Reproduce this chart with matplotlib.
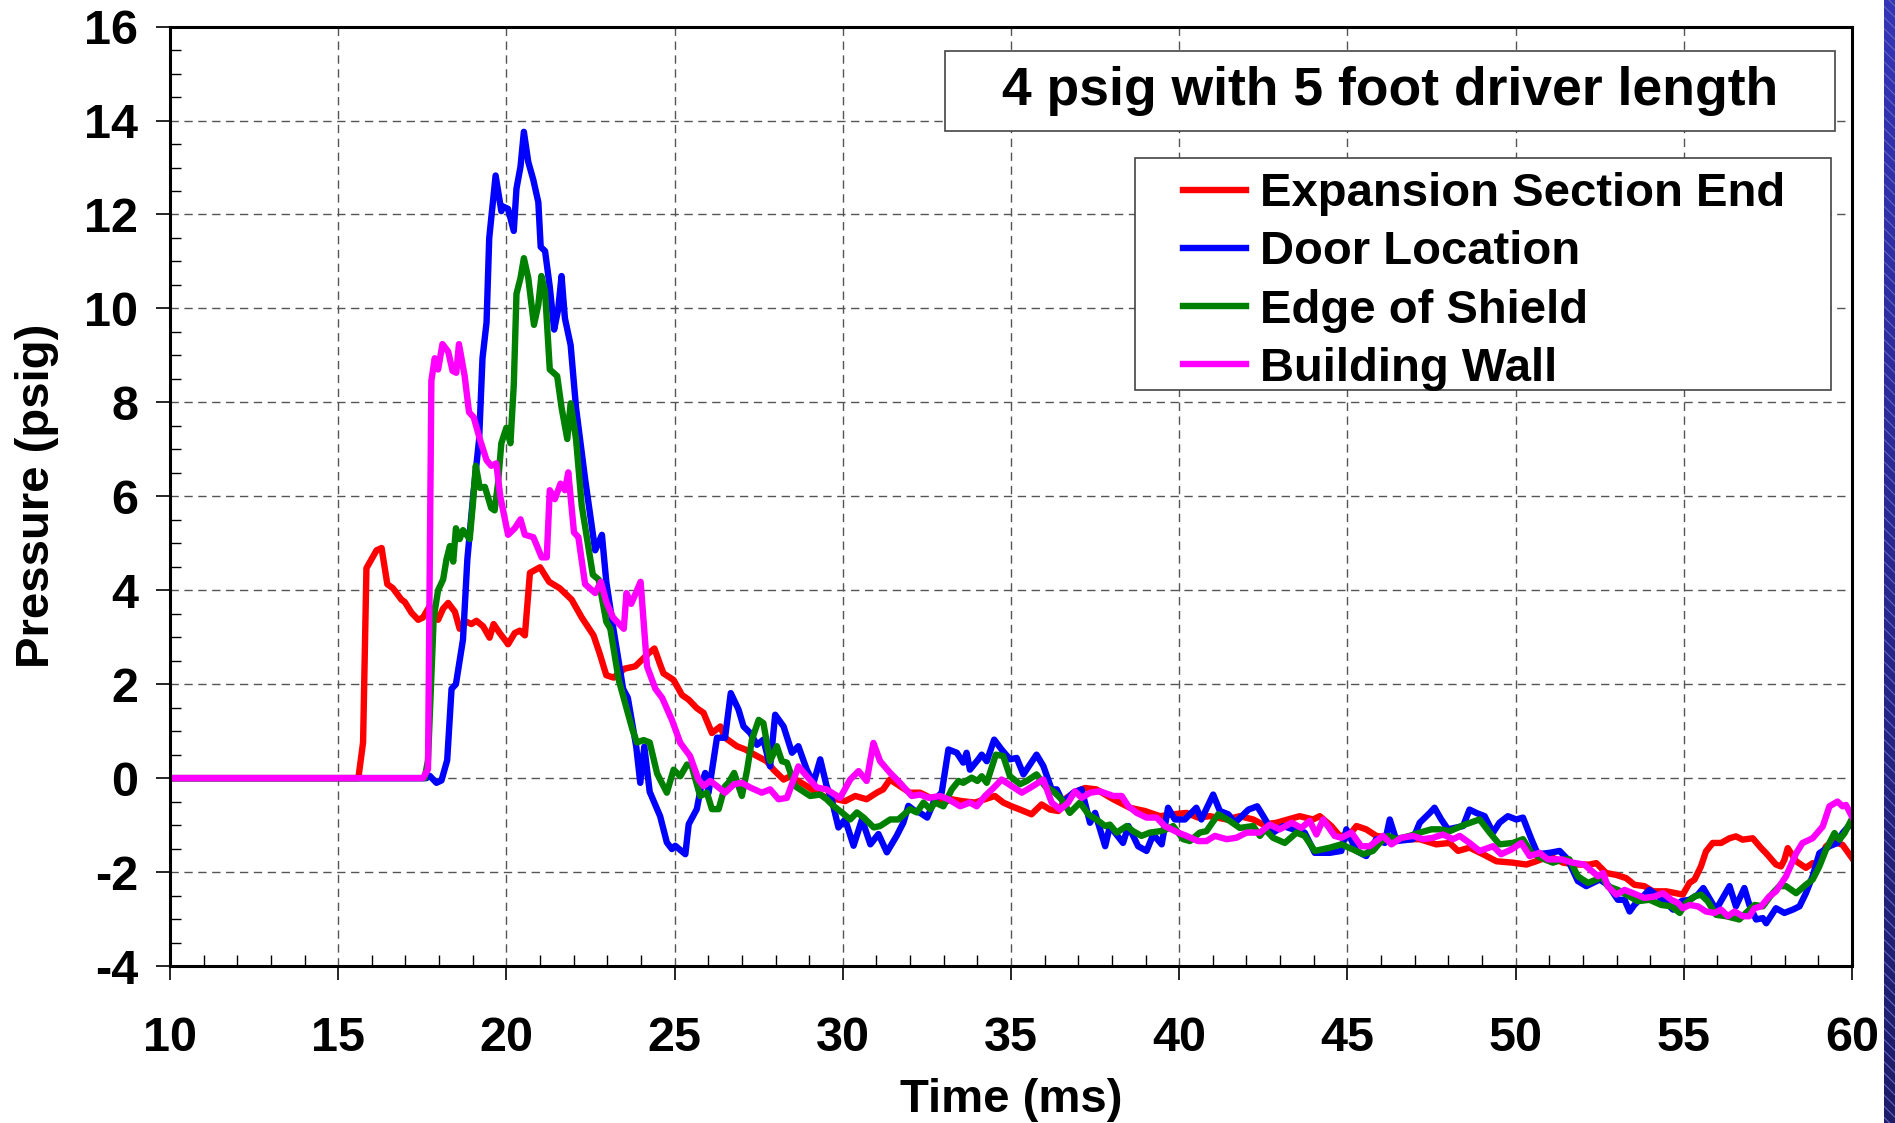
import numpy as np
import matplotlib
matplotlib.use('Agg')
import matplotlib.pyplot as plt
from matplotlib.patches import Rectangle
from matplotlib.ticker import MultipleLocator

plt.rcParams.update({
    'font.family': 'Liberation Sans', 'font.weight': 'bold',
    'axes.unicode_minus': False, 'hatch.linewidth': 0.8,
})

# (time ms, pressure psig)
red_pts = [
    (10, 0), (15.6, 0), (15.74, 0.76), (15.84, 4.47), (15.99, 4.66), (16.14, 4.85), (16.29, 4.9),
    (16.46, 4.13), (16.63, 4.04), (16.88, 3.8), (16.98, 3.75), (17.18, 3.52), (17.38, 3.37),
    (17.52, 3.42), (17.72, 3.66), (17.97, 3.37), (18.12, 3.61), (18.27, 3.73), (18.47, 3.54),
    (18.61, 3.18), (18.81, 3.33), (18.96, 3.28), (19.11, 3.35), (19.31, 3.23), (19.5, 2.99),
    (19.62, 3.28), (19.8, 3.09), (19.95, 2.95), (20.05, 2.85), (20.25, 3.09), (20.4, 3.14),
    (20.55, 3.04), (20.7, 4.37), (21.0, 4.49), (21.27, 4.18), (21.59, 4.04), (21.94, 3.8),
    (22.24, 3.42), (22.59, 3.04), (22.77, 2.66), (22.97, 2.19), (23.19, 2.14), (23.51, 2.33),
    (23.83, 2.38), (24.23, 2.66), (24.4, 2.76), (24.58, 2.4), (24.67, 2.23), (24.97, 2.09),
    (25.22, 1.77), (25.42, 1.67), (25.66, 1.49), (25.86, 1.39), (26.11, 0.96), (26.36, 1.1),
    (26.5, 0.86), (26.85, 0.68), (27.1, 0.61), (27.45, 0.47), (27.74, 0.36), (27.94, 0.18),
    (28.24, -0.03), (28.44, 0.04), (28.93, -0.17), (29.23, -0.31), (29.52, -0.42), (29.82, -0.45),
    (30.07, -0.49), (30.37, -0.38), (30.71, -0.45), (31.01, -0.31), (31.2, -0.24), (31.4, -0.03),
    (31.7, -0.17), (31.99, -0.31), (32.3, -0.31), (32.69, -0.45), (32.99, -0.52), (33.24, -0.45),
    (33.54, -0.49), (33.93, -0.52), (34.23, -0.45), (34.52, -0.38), (34.77, -0.52), (35.02, -0.6),
    (35.27, -0.67), (35.61, -0.77), (35.91, -0.56), (36.16, -0.67), (36.41, -0.7), (36.65, -0.42),
    (36.95, -0.28), (37.2, -0.21), (37.54, -0.24), (38.04, -0.45), (38.53, -0.63), (38.98, -0.7),
    (39.43, -0.81), (39.82, -0.77), (40.22, -0.74), (40.56, -0.84), (40.91, -0.81), (41.41, -0.88),
    (41.8, -0.81), (42.2, -0.88), (42.5, -0.99), (42.89, -0.95), (43.58, -0.81), (43.98, -0.88),
    (44.18, -0.81), (44.52, -1.02), (44.77, -1.23), (45.07, -1.2), (45.27, -1.02), (45.56, -1.09),
    (45.86, -1.23), (46.26, -1.27), (46.65, -1.3), (47.15, -1.3), (47.64, -1.41), (48.04, -1.38),
    (48.29, -1.55), (48.63, -1.48), (49.03, -1.62), (49.43, -1.77), (49.92, -1.8), (50.32, -1.84),
    (50.61, -1.77), (51.01, -1.66), (51.41, -1.8), (51.8, -1.84), (52.2, -1.84), (52.4, -1.81),
    (52.69, -2.02), (52.99, -2.06), (53.29, -2.13), (53.53, -2.27), (53.83, -2.3), (54.08, -2.41),
    (54.48, -2.41), (54.77, -2.45), (54.97, -2.48), (55.17, -2.23), (55.32, -2.16), (55.51, -1.88),
    (55.66, -1.56), (55.86, -1.38), (56.11, -1.38), (56.36, -1.28), (56.55, -1.24), (56.75, -1.31),
    (57.05, -1.28), (57.3, -1.49), (57.45, -1.6), (57.74, -1.84), (57.89, -1.88), (57.99, -1.74),
    (58.09, -1.49), (58.34, -1.77), (58.63, -1.91), (58.83, -1.81), (58.98, -1.84), (59.23, -1.45),
    (59.43, -1.35), (59.72, -1.42), (60.0, -1.7),
]

blue_pts = [
    (10, 0), (17.62, 0), (17.72, 0.05), (17.92, -0.1), (18.07, -0.05), (18.24, 0.38), (18.37, 1.9),
    (18.5, 2.0), (18.71, 2.95), (18.84, 4.66), (19.01, 5.99), (19.19, 7.22), (19.29, 8.94),
    (19.41, 9.7), (19.49, 11.5), (19.68, 12.83), (19.85, 12.07), (19.9, 12.17), (20.05, 12.12),
    (20.22, 11.65), (20.3, 12.55), (20.42, 13.02), (20.52, 13.76), (20.65, 13.12), (20.8, 12.74),
    (20.95, 12.26), (21.02, 11.31), (21.15, 11.22), (21.29, 10.46), (21.42, 9.55), (21.54, 9.98),
    (21.64, 10.69), (21.74, 9.79), (21.91, 9.22), (22.07, 7.89), (22.34, 6.37), (22.64, 4.85),
    (22.84, 5.18), (22.97, 4.18), (23.19, 3.14), (23.47, 1.9), (23.61, 1.71), (23.86, 0.67),
    (23.98, -0.1), (24.1, 0.67), (24.26, -0.29), (24.57, -0.81), (24.77, -1.37), (24.92, -1.51),
    (25.02, -1.44), (25.32, -1.62), (25.42, -0.98), (25.66, -0.66), (25.81, -0.1), (25.91, 0.11),
    (26.01, -0.31), (26.26, 0.86), (26.5, 0.86), (26.67, 1.81), (26.9, 1.46), (27.05, 1.1),
    (27.25, 0.96), (27.45, 0.71), (27.64, 0.82), (27.84, 0.25), (27.99, 1.35), (28.24, 1.1),
    (28.49, 0.54), (28.68, 0.68), (28.93, 0.18), (29.13, -0.1), (29.33, 0.4), (29.52, -0.17),
    (29.67, -0.45), (29.87, -1.05), (30.07, -0.88), (30.32, -1.44), (30.57, -0.88), (30.82, -1.41),
    (31.06, -1.19), (31.31, -1.58), (31.6, -1.23), (31.8, -0.95), (31.95, -0.59), (32.15, -0.7),
    (32.3, -0.74), (32.51, -0.84), (32.74, -0.45), (32.94, -0.31), (33.14, 0.61), (33.39, 0.54),
    (33.58, 0.33), (33.68, 0.54), (33.78, 0.18), (34.03, 0.4), (34.13, 0.5), (34.28, 0.36),
    (34.5, 0.82), (34.72, 0.61), (34.97, 0.4), (35.17, 0.43), (35.37, 0.08), (35.76, 0.5),
    (35.96, 0.26), (36.21, -0.24), (36.36, -0.24), (36.55, -0.52), (36.85, -0.31), (37.1, -0.24),
    (37.35, -0.95), (37.5, -0.74), (37.8, -1.45), (37.94, -1.02), (38.33, -1.38), (38.49, -1.02),
    (38.78, -1.45), (39.03, -1.55), (39.23, -1.2), (39.48, -1.41), (39.67, -0.63), (39.87, -0.88),
    (40.17, -0.88), (40.51, -0.63), (40.66, -0.88), (41.01, -0.35), (41.21, -0.7), (41.46, -0.77),
    (41.66, -0.95), (42.06, -0.67), (42.32, -0.6), (42.5, -0.81), (42.79, -1.16), (43.09, -1.02),
    (43.39, -1.09), (43.73, -1.16), (44.03, -1.59), (44.48, -1.59), (44.82, -1.55), (44.97, -1.09),
    (45.27, -1.55), (45.56, -1.66), (45.86, -1.3), (46.11, -1.38), (46.26, -0.88), (46.46, -1.34),
    (46.95, -1.3), (47.15, -0.95), (47.45, -0.74), (47.59, -0.63), (47.79, -0.88), (47.99, -1.09),
    (48.44, -1.02), (48.63, -0.67), (48.83, -0.74), (49.08, -0.81), (49.33, -1.16), (49.52, -0.95),
    (49.77, -0.81), (50.02, -0.88), (50.22, -0.84), (50.47, -1.3), (50.66, -1.62), (51.01, -1.59),
    (51.31, -1.55), (51.55, -1.73), (51.85, -2.19), (52.1, -2.3), (52.5, -2.16), (52.74, -2.27),
    (53.04, -2.59), (53.24, -2.59), (53.39, -2.84), (53.53, -2.7), (53.78, -2.52), (53.98, -2.38),
    (54.43, -2.62), (54.68, -2.8), (54.93, -2.62), (55.17, -2.59), (55.42, -2.48), (55.58, -2.34),
    (55.96, -2.8), (56.36, -2.3), (56.55, -2.73), (56.8, -2.34), (56.95, -2.7), (57.15, -3.01),
    (57.35, -2.98), (57.45, -3.09), (57.74, -2.77), (57.99, -2.87), (58.24, -2.8), (58.44, -2.73),
    (58.63, -2.45), (58.83, -2.09), (59.03, -1.6), (59.33, -1.45), (59.57, -1.38), (59.72, -1.17),
    (59.98, -0.96),
]

green_pts = [
    (10, 0), (17.57, 0), (17.67, 0.38), (17.84, 3.42), (17.97, 4.0), (18.12, 4.23), (18.22, 4.66),
    (18.32, 4.94), (18.42, 4.61), (18.5, 5.32), (18.61, 5.09), (18.71, 5.28), (18.91, 5.09),
    (19.01, 5.89), (19.09, 6.65), (19.21, 6.18), (19.36, 6.2), (19.55, 5.75), (19.65, 5.7),
    (19.75, 6.27), (19.85, 7.13), (20.0, 7.46), (20.12, 7.13), (20.22, 8.37), (20.3, 10.31),
    (20.42, 10.65), (20.52, 11.07), (20.65, 10.65), (20.82, 9.65), (20.95, 10.08), (21.04, 10.69),
    (21.15, 10.36), (21.29, 8.7), (21.51, 8.56), (21.64, 7.89), (21.81, 7.22), (21.91, 7.98),
    (22.07, 7.22), (22.24, 5.8), (22.57, 4.33), (22.74, 4.23), (22.97, 3.33), (23.09, 3.18),
    (23.34, 2.09), (23.74, 1.05), (23.88, 0.76), (24.08, 0.81), (24.26, 0.76), (24.48, 0.1),
    (24.57, -0.03), (24.77, -0.31), (24.97, 0.18), (25.17, 0.04), (25.37, 0.29), (25.51, 0.25),
    (25.76, -0.38), (25.96, -0.31), (26.11, -0.66), (26.31, -0.66), (26.5, -0.17), (26.6, -0.1),
    (26.77, 0.11), (27.0, -0.38), (27.15, 0.15), (27.3, 0.82), (27.5, 1.24), (27.64, 1.17),
    (27.84, 0.36), (28.04, 0.68), (28.19, 0.36), (28.34, 0.33), (28.58, -0.17), (28.73, -0.24),
    (29.03, -0.38), (29.33, -0.35), (29.52, -0.45), (29.72, -0.59), (29.97, -0.73), (30.22, -0.88),
    (30.42, -0.73), (30.62, -0.84), (30.92, -1.05), (31.11, -1.02), (31.41, -0.88), (31.65, -0.88),
    (32.0, -0.66), (32.2, -0.73), (32.4, -0.52), (32.6, -0.66), (32.74, -0.52), (32.99, -0.6),
    (33.24, -0.24), (33.44, -0.06), (33.58, -0.1), (33.83, 0.01), (34.0, -0.06), (34.13, 0.04),
    (34.28, -0.1), (34.55, 0.5), (34.77, 0.47), (34.97, 0.04), (35.27, -0.13), (35.47, -0.06),
    (35.76, 0.08), (36.01, -0.17), (36.26, -0.28), (36.5, -0.45), (36.75, -0.74), (37.05, -0.52),
    (37.3, -0.77), (37.54, -0.88), (37.8, -1.02), (37.94, -0.99), (38.14, -1.16), (38.44, -1.02),
    (38.63, -1.13), (38.88, -1.23), (39.13, -1.16), (39.43, -1.13), (39.62, -1.09), (39.82, -1.02),
    (40.12, -1.3), (40.32, -1.34), (40.61, -1.16), (40.81, -1.13), (41.16, -0.77), (41.5, -0.91),
    (41.8, -1.06), (42.2, -1.02), (42.4, -1.23), (42.55, -1.09), (42.79, -1.27), (43.14, -1.38),
    (43.49, -1.16), (43.73, -1.23), (44.03, -1.55), (44.48, -1.48), (44.82, -1.41), (45.17, -1.52),
    (45.47, -1.62), (45.76, -1.55), (45.96, -1.38), (46.21, -1.23), (46.46, -1.3), (46.85, -1.23),
    (47.15, -1.16), (47.5, -1.09), (47.74, -1.09), (48.04, -1.13), (48.49, -0.99), (48.93, -0.88),
    (49.23, -1.16), (49.52, -1.41), (49.92, -1.38), (50.22, -1.3), (50.47, -1.59), (50.76, -1.7),
    (51.11, -1.8), (51.41, -1.73), (51.6, -1.73), (51.85, -2.09), (52.15, -2.23), (52.4, -2.16),
    (52.55, -2.09), (52.74, -2.3), (53.04, -2.38), (53.39, -2.52), (53.63, -2.62), (53.98, -2.59),
    (54.33, -2.7), (54.63, -2.73), (54.88, -2.87), (55.07, -2.66), (55.32, -2.52), (55.51, -2.48),
    (55.71, -2.62), (55.96, -2.91), (56.26, -2.94), (56.65, -3.01), (56.85, -2.87), (57.1, -2.7),
    (57.35, -2.73), (57.64, -2.45), (57.84, -2.3), (58.04, -2.3), (58.34, -2.45), (58.63, -2.27),
    (58.83, -2.16), (59.03, -1.88), (59.23, -1.52), (59.48, -1.17), (59.63, -1.31), (59.78, -1.17),
    (59.98, -0.89),
]

magenta_pts = [
    (10, 0), (17.52, 0), (17.67, 0.19), (17.77, 8.46), (17.87, 8.94), (17.97, 8.7), (18.1, 9.24),
    (18.27, 9.08), (18.4, 8.67), (18.51, 8.63), (18.59, 9.24), (18.76, 8.56), (18.89, 7.79),
    (19.03, 7.68), (19.21, 7.22), (19.41, 6.77), (19.55, 6.65), (19.7, 6.7), (19.82, 5.99),
    (20.05, 5.18), (20.25, 5.32), (20.42, 5.51), (20.55, 5.18), (20.8, 5.13), (21.05, 4.7),
    (21.2, 4.7), (21.29, 6.13), (21.44, 5.94), (21.61, 6.27), (21.74, 6.13), (21.84, 6.51),
    (22.01, 5.23), (22.14, 5.13), (22.34, 4.13), (22.64, 3.94), (22.81, 4.18), (22.97, 3.75),
    (23.17, 3.42), (23.49, 3.18), (23.57, 3.94), (23.71, 3.71), (23.99, 4.18), (24.18, 2.38),
    (24.43, 1.9), (24.63, 1.71), (24.92, 1.24), (25.17, 0.75), (25.46, 0.47), (25.71, -0.03),
    (25.86, -0.17), (26.06, -0.06), (26.26, -0.17), (26.5, -0.31), (26.77, -0.13), (27.0, -0.1),
    (27.25, -0.2), (27.59, -0.31), (27.84, -0.24), (28.09, -0.45), (28.34, -0.42), (28.68, 0.25),
    (28.93, 0.04), (29.23, -0.2), (29.52, -0.24), (29.92, -0.42), (30.22, -0.03), (30.47, 0.15),
    (30.71, -0.06), (30.91, 0.75), (31.11, 0.36), (31.41, 0.11), (31.7, -0.1), (32.05, -0.38),
    (32.3, -0.35), (32.55, -0.42), (32.89, -0.38), (33.14, -0.45), (33.49, -0.6), (33.78, -0.52),
    (33.98, -0.6), (34.23, -0.38), (34.48, -0.21), (34.72, -0.03), (35.02, -0.17), (35.32, -0.31),
    (35.56, -0.21), (35.96, -0.03), (36.21, -0.52), (36.46, -0.67), (36.7, -0.52), (36.9, -0.28),
    (37.1, -0.42), (37.35, -0.31), (37.64, -0.28), (38.04, -0.38), (38.29, -0.38), (38.49, -0.6),
    (38.74, -0.74), (39.03, -0.84), (39.33, -0.84), (39.57, -1.02), (39.97, -1.16), (40.22, -1.23),
    (40.56, -1.34), (40.81, -1.34), (41.06, -1.23), (41.41, -1.3), (41.7, -1.27), (42.0, -1.16),
    (42.4, -1.16), (42.69, -0.99), (42.99, -1.09), (43.34, -0.95), (43.63, -1.06), (43.88, -0.91),
    (44.08, -1.2), (44.28, -0.88), (44.62, -1.23), (44.82, -1.27), (45.12, -1.16), (45.41, -1.45),
    (45.66, -1.45), (46.06, -1.23), (46.31, -1.41), (46.6, -1.27), (46.95, -1.23), (47.25, -1.3),
    (47.54, -1.27), (47.84, -1.2), (48.14, -1.3), (48.34, -1.23), (48.63, -1.38), (48.93, -1.55),
    (49.33, -1.45), (49.57, -1.62), (49.87, -1.52), (50.17, -1.38), (50.42, -1.66), (50.71, -1.59),
    (50.96, -1.73), (51.36, -1.73), (51.7, -1.8), (52.04, -1.84), (52.45, -2.09), (52.6, -2.02),
    (52.74, -2.3), (52.99, -2.48), (53.24, -2.38), (53.49, -2.45), (53.83, -2.55), (54.13, -2.52),
    (54.38, -2.45), (54.63, -2.59), (54.83, -2.66), (54.97, -2.77), (55.17, -2.7), (55.42, -2.73),
    (55.66, -2.84), (55.91, -2.87), (56.11, -2.8), (56.31, -2.94), (56.51, -2.84), (56.75, -2.94),
    (56.95, -2.94), (57.1, -2.77), (57.3, -2.73), (57.54, -2.52), (57.74, -2.41), (58.04, -2.09),
    (58.34, -1.6), (58.53, -1.38), (58.83, -1.28), (59.13, -1.03), (59.33, -0.6), (59.57, -0.5),
    (59.72, -0.6), (59.82, -0.57), (60.0, -0.82),
]

series = [
    ('Expansion Section End', red_pts, '#FF0000'),
    ('Door Location', blue_pts, '#0000FF'),
    ('Edge of Shield', green_pts, '#008000'),
    ('Building Wall', magenta_pts, '#FF00FF'),
]
title_text = '4 psig with 5 foot driver length'
x_ticks = list(range(10, 61, 5))
y_ticks = list(range(-4, 17, 2))

fig = plt.figure(figsize=(18.95, 11.23), dpi=100)
ax = fig.add_axes([0.0897, 0.1398, 0.8876, 0.8365])

handles = []
for name, pts, col in series:
    t, p = zip(*pts)
    h, = ax.plot(t, p, color=col, lw=4.6, label=name)
    handles.append(h)

ax.set_xlim(10, 60); ax.set_ylim(-4, 16)
ax.set_xticks(x_ticks); ax.set_yticks(y_ticks)
ax.xaxis.set_minor_locator(MultipleLocator(1))
ax.yaxis.set_minor_locator(MultipleLocator(0.5))
ax.tick_params(which='major', direction='out', length=10, width=1.2, labelsize=35)
ax.tick_params(which='minor', direction='in', length=8, width=1.0)
ax.tick_params(axis='x', which='major', pad=26)
ax.tick_params(axis='y', which='major', pad=13)
for s in ax.spines.values():
    s.set_linewidth(2.2)
ax.grid(True, which='major', color='#555555', lw=1.0, ls=(0, (6, 4)))

ax.set_xlabel('Time (ms)', fontsize=34, fontweight='bold')
ax.set_ylabel('Pressure (psig)', fontsize=34, fontweight='bold')
ax.xaxis.set_label_coords(0.5, -0.119)
ax.yaxis.set_label_coords(-0.066, 0.5)

# title box
ax.add_patch(Rectangle((0.461, 0.889), 0.529, 0.085, transform=ax.transAxes,
                       facecolor='white', edgecolor='#444444', lw=1.2, zorder=5))
ax.text(0.7255, 0.9315, title_text, transform=ax.transAxes, ha='center', va='center',
        fontsize=38.5, fontweight='bold', zorder=6)

# legend box
ax.add_patch(Rectangle((0.574, 0.613), 0.4135, 0.247, transform=ax.transAxes,
                       facecolor='white', edgecolor='#444444', lw=1.2, zorder=5))
leg = ax.legend(handles=handles, loc='upper left', bbox_to_anchor=(0.602, 0.845),
                frameon=False, fontsize=34, handlelength=1.34, handletextpad=0.3,
                labelspacing=0.3, borderpad=0, borderaxespad=0)
leg.set_zorder(7)
for lh in leg.get_lines():
    lh.set_linewidth(4.6)

# slide background strip at the right edge
bax = fig.add_axes([0.9942, 0, 0.0058, 1])
grad = np.linspace(0, 1, 256).reshape(-1, 1)
bax.imshow(grad, aspect='auto', cmap=matplotlib.colors.LinearSegmentedColormap.from_list(
    'bg', ['#3434b8', '#1c1c68']), extent=(0, 1, 0, 1), origin='upper')
bax.add_patch(Rectangle((0, 0), 1, 1, facecolor='none', edgecolor='#6464c0',
                        hatch='\\\\\\', lw=0))
bax.set_axis_off()

fig.savefig('out.png', dpi=100)
